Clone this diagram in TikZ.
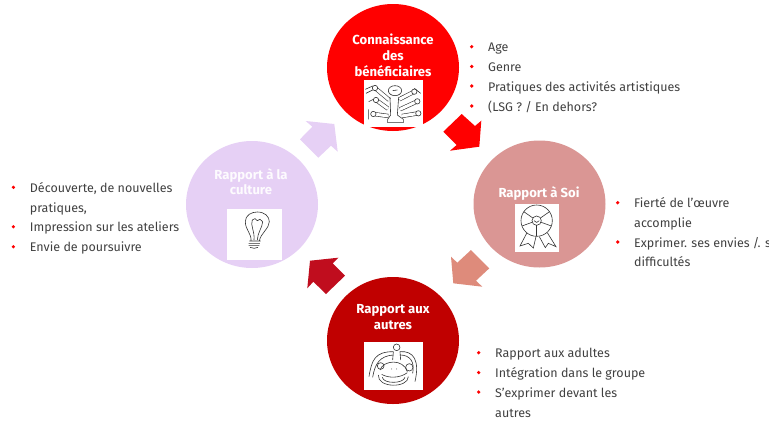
\documentclass[tikz,border=0pt]{standalone}
\usepackage{fontspec}
\setmainfont{Fira Sans}
\usetikzlibrary{shapes.geometric}
\definecolor{topRed}{HTML}{FF0000}
\definecolor{soiPink}{HTML}{DA9694}
\definecolor{soiArrow}{HTML}{DE8B7B}
\definecolor{autresRed}{HTML}{C00000}
\definecolor{autresArrow}{HTML}{C00D1E}
\definecolor{cultureLilac}{HTML}{E6D0F5}
\definecolor{itemGrey}{HTML}{404040}
\tikzset{
	bubble/.style={ellipse, minimum width=132pt, minimum height=127pt, inner sep=0pt},
	bubbletitle/.style={text=white, font=\fontsize{13.1}{15.8}\selectfont\bfseries, align=center, anchor=north, inner sep=0pt},
	iconbox/.style={fill=white, draw=none, inner sep=0pt, anchor=north west},
	itemtext/.style={text=itemGrey, font=\fontsize{12.5}{15}\selectfont, anchor=base west, inner sep=0pt},
	itemdot/.style={circle, fill=topRed, minimum size=3.6pt, inner sep=0pt},
	iconline/.style={line width=0.6pt, draw=black!80},
	armline/.style={line width=0.6pt, draw=black!80, double=white, double distance=3pt},
	zoomed/.style={x=0.3333pt, y=-0.3333pt}
}
\newcommand{\myShowItem}[4]{
\node[itemtext] (#1) at (#2,#3) {#4};
\node[itemdot] (#1dot) at (#2-16.3,#3-5) {};
}
\newcommand{\myBlockArrow}[2]{
\fill[#1] #2 -- cycle;
}

\begin{document}
\begin{tikzpicture}[x=1pt, y=-1pt]
	\useasboundingbox (0,0) rectangle (769,421);
	% circles
	\node[bubble, fill=topRed] (connaissance) at (393,67.5) {};
	\node[bubble, fill=soiPink] (soi) at (539.5,204) {};
	\node[bubble, fill=autresRed] (autres) at (393,340.5) {};
	\node[bubble, fill=cultureLilac] (culture) at (252,204.5) {};
	% arrows between the circles
	\myBlockArrow{topRed}{(461.7,114) -- (443.3,131.7) -- (456.7,145) -- (450,150.7) -- (479.3,146.7) -- (481.3,120.7) -- (475,126)}
	\myBlockArrow{soiArrow}{(451,256.7) -- (453.3,283.3) -- (482.3,286.7) -- (476,280.7) -- (489.3,268.3) -- (471,250) -- (457.3,262.7)}
	\myBlockArrow{autresArrow}{(310,260.7) -- (338.3,257.7) -- (332.7,263.3) -- (345,275.7) -- (326,294) -- (313.3,281.7) -- (307.3,288.3)}
	\myBlockArrow{cultureLilac}{(305.7,121) -- (334.3,124) -- (337.7,151.7) -- (331,145.7) -- (318.3,157.7) -- (300,139.3) -- (312.3,126.7)}
	% titles
	\node[bubbletitle] (connaissancetitle) at (393,34) {Connaissance\\des\\bénéficiaires};
	\node[bubbletitle] (soititle) at (539,186.5) {Rapport à Soi};
	\node[bubbletitle] (autrestitle) at (393,304) {Rapport aux\\autres};
	\node[bubbletitle, text=white!92!cultureLilac] (culturetitle) at (251,168) {Rapport à la\\culture};
	% white boxes of the icons
	\node[iconbox, minimum width=58.3pt, minimum height=46.7pt] (connaissanceicon) at (364,80) {};
	\node[iconbox, minimum width=44.7pt, minimum height=48pt] (soiicon) at (514.3,204) {};
	\node[iconbox, minimum width=58.6pt, minimum height=48pt] (autresicon) at (363.7,342) {};
	\node[iconbox, minimum width=55pt, minimum height=51.7pt] (cultureicon) at (226.7,208.3) {};
	% icon with many arms
	\begin{scope}[shift={(320pt,0pt)}, zoomed]
		\draw[iconline] (225,272) ellipse (20 and 15);
		\draw[iconline] (218,272) -- (232,270);
		\foreach \ax/\ay/\bx/\by in {165/264/208/300, 168/300/204/326, 160/342/205/348, 283/275/238/298, 292/304/240/328, 295/340/246/348}{
			\draw[armline] (\ax,\ay) -- (\bx,\by);
			\draw[iconline, fill=white] (\ax,\ay) circle (8);
		}
		\draw[iconline] (210,292) -- (212,345) -- (203,358) -- (203,368) -- (250,368) -- (250,358) -- (232,345) -- (236,292);
		\draw[iconline] (136,268) -- (158,258) (138,280) -- (158,270) (146,305) -- (160,298) (146,328) -- (146,358) (283,265) -- (302,280);
	\end{scope}
	% rosette icon
	\begin{scope}[shift={(460pt,-130pt)}, zoomed]
		\draw[iconline] (230,272) circle (47);
		\draw[iconline] (230,272) circle (14);
		\foreach \ang in {90,160,215,325,20}{
			\draw[iconline] (230,272) ++(\ang:14) -- ++(\ang:33);
		}
		\draw[iconline] (200,310) -- (180,348) -- (205,340) -- (220,354) -- (228,320);
		\draw[iconline] (238,320) -- (256,353) -- (265,340) -- (288,350) -- (262,308);
		\draw[iconline] (222,272) .. controls (226,279) and (234,279) .. (238,272);
	\end{scope}
	% group icon
	\begin{scope}[shift={(300pt,-260pt)}, zoomed]
		\draw[iconline] (290,262) circle (10);
		\draw[iconline] (278,300) -- (280,275) (302,300) -- (300,275);
		\draw[iconline] (207,350) .. controls (215,300) and (225,275) .. (280,275);
		\draw[iconline] (218,352) .. controls (225,310) and (240,288) .. (280,285);
		\draw[iconline] (300,275) .. controls (340,272) and (360,300) .. (345,365);
		\draw[iconline] (300,285) .. controls (330,285) and (345,305) .. (338,340);
		\draw[iconline] (242,318) circle (10);
		\draw[iconline] (328,322) circle (11);
		\draw[iconline] (240,330) .. controls (250,300) and (310,295) .. (322,335);
		\draw[iconline] (245,343) .. controls (265,355) and (300,355) .. (322,338);
		\draw[iconline] (235,345) .. controls (232,385) and (325,385) .. (325,350);
		\draw[iconline] (247,352) .. controls (250,372) and (310,372) .. (315,352);
		\fill[black!70] (275,327) circle (1.5) (290,327) circle (1.5);
	\end{scope}
	% bulb icon
	\begin{scope}[shift={(170pt,-110pt)}, zoomed]
		\draw[iconline] (243,393) .. controls (245,370) and (226,360) .. (226,335) .. controls (226,315) and (245,306) .. (262,306) .. controls (285,306) and (298,320) .. (298,335) .. controls (298,355) and (272,370) .. (268,393);
		\draw[iconline] (252,390) .. controls (255,365) and (240,345) .. (247,330) -- (255,326) -- (262,332) -- (270,328) -- (278,335) .. controls (278,350) and (262,370) .. (262,390);
		\draw[iconline] (238,393) -- (272,393) (236,400) -- (270,400) (236,406) -- (268,406) (240,412) .. controls (248,416) and (258,416) .. (264,412);
	\end{scope}
	% list of the top circle
	\myShowItem{age}{488}{51.7}{Age}
	\myShowItem{genre}{488}{71.5}{Genre}
	\myShowItem{pratiques}{488}{91}{Pratiques des activités artistiques}
	\myShowItem{lsg}{488}{111}{(LSG ? / En dehors?}
	% list of the right circle
	\myShowItem{fierte}{634}{207.7}{Fierté de l’œuvre}
	\node[itemtext] (fierte2) at (634,227.5) {accomplie};
	\myShowItem{exprimer}{634}{247}{Exprimer. ses envies /. s}
	\node[itemtext] (exprimer2) at (634,266.7) {difficultés};
	% list of the bottom circle
	\myShowItem{adultes}{495}{357.7}{Rapport aux adultes}
	\myShowItem{integration}{495}{377.5}{Intégration dans le groupe}
	\myShowItem{sexprimer}{495}{397}{S’exprimer devant les}
	\node[itemtext] (sexprimer2) at (495,417) {autres};
	% list of the left circle
	\myShowItem{decouverte}{29.7}{192.3}{Découverte, de nouvelles}
	\node[itemtext] (decouverte2) at (29.7,212.3) {pratiques,};
	\myShowItem{impression}{29.7}{231.7}{Impression sur les ateliers}
	\myShowItem{envie}{29.7}{251.7}{Envie de poursuivre}
\end{tikzpicture}
\end{document}
